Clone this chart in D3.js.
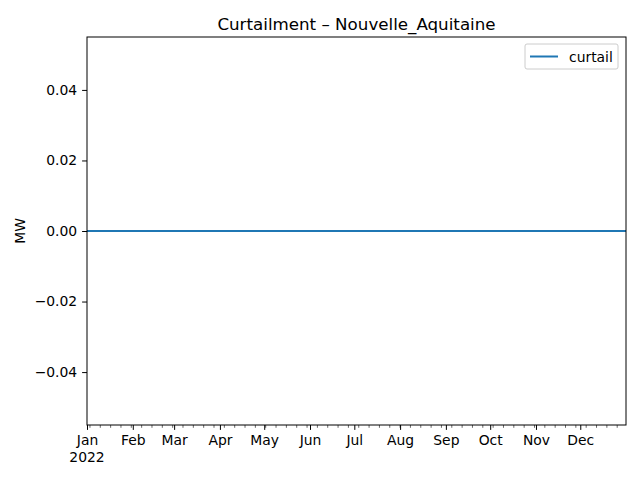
<!DOCTYPE html>
<html><head><meta charset="utf-8">
<script src="https://cdn.jsdelivr.net/npm/d3@7"></script>
<style>body{margin:0;background:#fff}text{font-family:"DejaVu Sans",sans-serif;fill:#000}</style>
</head><body><div id="chart"></div>
<script>
// data: curtailment sampled at month starts (all zero)
var dates = ["2022-01-01","2022-02-01","2022-03-01","2022-04-01","2022-05-01","2022-06-01","2022-07-01","2022-08-01","2022-09-01","2022-10-01","2022-11-01","2022-12-01","2022-12-31T23:00"];
var curtail = [0,0,0,0,0,0,0,0,0,0,0,0,0];
var yTicks = [-0.04,-0.02,0,0.02,0.04];
var monthLabels = ["Jan","Feb","Mar","Apr","May","Jun","Jul","Aug","Sep","Oct","Nov","Dec"];

var parse = function(s){ return new Date(s.length>10 ? s : s+"T00:00"); };
var pts = dates.map(function(d,i){ return {t: parse(d), v: curtail[i]}; });

var svg = d3.select("#chart").append("svg").attr("width",640).attr("height",480);
var L=87,R=626,T=37,B=425, FS=13.9;
var x = d3.scaleTime().domain([pts[0].t, pts[pts.length-1].t]).range([L,R]);
var y = d3.scaleLinear().domain([-0.055,0.055]).range([B,T]);

// y axis
var ya = svg.append("g").attr("transform","translate("+L+",0)")
  .call(d3.axisLeft(y).tickValues(yTicks).tickSize(4.9).tickPadding(4.9)
    .tickFormat(function(d){ return d3.format(".2f")(d).replace("-","\u2212"); }));
ya.select(".domain").remove();
ya.selectAll("text").attr("font-size",FS).style("font-family","DejaVu Sans");

// x axis: months major, weekly minor
var months = d3.timeMonth.range(parse("2022-01-01"), parse("2023-01-01"));
var xa = svg.append("g").attr("transform","translate(0,"+B+")")
  .call(d3.axisBottom(x).tickValues(months).tickSize(4.9).tickPadding(4.9)
    .tickFormat(function(d,i){ return monthLabels[i]; }));
xa.select(".domain").remove();
xa.selectAll("text").attr("font-size",FS).style("font-family","DejaVu Sans");
svg.append("text").attr("x",L).attr("y",B+37).attr("text-anchor","middle").attr("font-size",FS).text("2022");
var weeks = d3.timeMonday.range(parse("2022-01-01"), parse("2022-12-31T23:00"));
svg.append("g").selectAll("line").data(weeks).join("line")
  .attr("x1",function(d){return x(d);}).attr("x2",function(d){return x(d);})
  .attr("y1",B).attr("y2",B+2.8).attr("stroke","#000").attr("stroke-width",0.6);

// line
svg.append("path").datum(pts).attr("fill","none").attr("stroke","#1f77b4").attr("stroke-width",2)
  .attr("d", d3.line().x(function(d){return x(d.t);}).y(function(d){return y(d.v);}));

// frame
svg.append("rect").attr("x",L).attr("y",T).attr("width",R-L).attr("height",B-T)
  .attr("fill","none").attr("stroke","#000").attr("stroke-width",1);

svg.append("text").attr("x",(L+R)/2).attr("y",T-7).attr("text-anchor","middle").attr("font-size",16.7).text("Curtailment \u2013 Nouvelle_Aquitaine");
svg.append("text").attr("transform","translate(25,"+((T+B)/2)+") rotate(-90)").attr("text-anchor","middle").attr("font-size",FS).text("MW");

// legend
var lg = svg.append("g").attr("transform","translate(525,44)");
lg.append("rect").attr("width",93).attr("height",25).attr("rx",2).attr("fill","#fff").attr("stroke","#ccc");
lg.append("line").attr("x1",5).attr("x2",33).attr("y1",12.5).attr("y2",12.5).attr("stroke","#1f77b4").attr("stroke-width",2);
lg.append("text").attr("x",44).attr("y",17.5).attr("font-size",FS).text("curtail");
</script></body></html>
